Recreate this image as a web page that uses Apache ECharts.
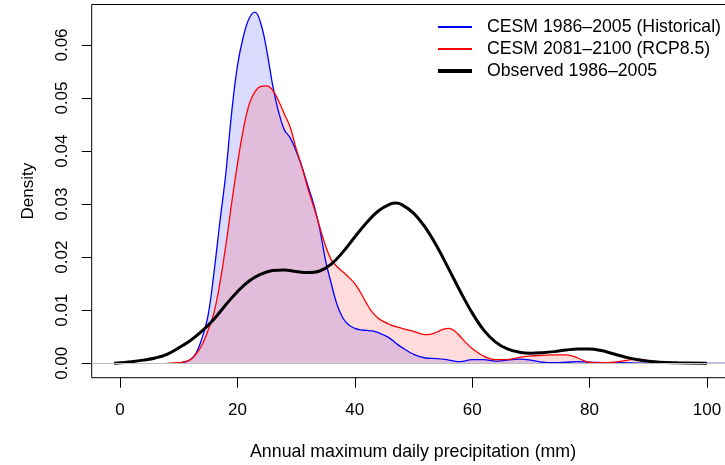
<!DOCTYPE html>
<html>
<head>
<meta charset="utf-8">
<script src="https://cdn.jsdelivr.net/npm/echarts@6/dist/echarts.min.js"></script>
<style>html,body{margin:0;padding:0;background:#fff;}#c{width:725px;height:465px;}</style>
</head>
<body>
<div id="c"></div>
<script>
// ---- data ----
const seriesNames = ["CESM 1986\u20132005 (Historical)", "CESM 2081\u20132100 (RCP8.5)", "Observed 1986\u20132005"];
const xTicks = [0, 20, 40, 60, 80, 100];
const yTicks = [0, 0.01, 0.02, 0.03, 0.04, 0.05, 0.06];
const xTitle = "Annual maximum daily precipitation (mm)";
const yTitle = "Density";

const histX = [10,11,12,13,14,15,16,17,18,19,20,21,22,23,24,25,26,27,28,29,30,31,32,33,34,35,36,37,38,39,40,41,42,43,44,45,46,47,48,50,52,54,56,58,60,62,64,66,68,70,72,74,76,78,80,85,90,95,100,105,110];
const histY = [0.0000,0.0002,0.0007,0.0020,0.0048,0.0090,0.0170,0.0265,0.0355,0.0470,0.0560,0.0615,0.0650,0.0662,0.0640,0.0590,0.0525,0.0475,0.0440,0.0425,0.0400,0.0370,0.0335,0.0300,0.0255,0.0195,0.0150,0.0110,0.0085,0.0072,0.0066,0.0063,0.0062,0.0061,0.0058,0.0053,0.0047,0.0038,0.0030,0.0017,0.0010,0.0009,0.0006,0.0003,0.0007,0.0007,0.0004,0.0006,0.0008,0.0006,0.0002,0.0001,0.0002,0.0003,0.0002,0.0001,0.0000,0.0001,0.0000,0.0000,0.0000];

const rcpX = [8,10,11,12,13,14,15,16,17,18,19,20,21,22,23,24,25,26,27,28,29,30,31,32,33,34,35,36,37,38,39,40,41,42,43,44,45,46,47,48,50,52,53,54,55,56,57,58,59,60,61,62,63,64,66,68,70,72,74,76,77,78,79,80,82,84,86,88,90,92,94];
const rcpY = [0.0000,0.0001,0.0003,0.0007,0.0018,0.0035,0.0062,0.0095,0.0150,0.0220,0.0300,0.0375,0.0440,0.0488,0.0512,0.0522,0.0523,0.0515,0.0495,0.0470,0.0445,0.0405,0.0370,0.0330,0.0295,0.0258,0.0222,0.0195,0.0182,0.0172,0.0162,0.0150,0.0133,0.0113,0.0096,0.0085,0.0078,0.0073,0.0069,0.0066,0.0060,0.0054,0.0055,0.0059,0.0064,0.0066,0.0061,0.0050,0.0038,0.0028,0.0020,0.0013,0.0009,0.0007,0.0007,0.0011,0.0014,0.0015,0.0016,0.0016,0.0014,0.0010,0.0005,0.0002,0.0001,0.0002,0.0005,0.0008,0.0005,0.0001,0.0000];

const obsX = [-1,0,2,4,6,8,10,12,14,16,18,20,22,24,26,28,30,32,34,36,38,40,42,44,46,47,48,50,52,54,56,58,60,62,64,66,68,70,72,74,76,78,80,82,84,86,88,90,92,95,100];
const obsY = [0.0000,0.0001,0.0003,0.0006,0.0010,0.0017,0.0029,0.0043,0.0061,0.0083,0.0110,0.0135,0.0155,0.0168,0.0175,0.0176,0.0173,0.0171,0.0174,0.0187,0.0210,0.0238,0.0265,0.0287,0.0300,0.0302,0.0299,0.0283,0.0256,0.0220,0.0178,0.0135,0.0095,0.0062,0.0040,0.0027,0.0021,0.0019,0.0020,0.0022,0.0025,0.0027,0.0027,0.0024,0.0018,0.0012,0.0007,0.0004,0.0002,0.0001,0.0000];

// ---- chart ----
const FONT = "Liberation Sans, Arial, Helvetica, sans-serif";
const X_MIN = -4.82, X_MAX = 109.8, Y_MIN = -0.002714, Y_MAX = 0.06763;
const pairs = (xs, ys) => xs.map((x, i) => [x, ys[i]]);
const chart = echarts.init(document.getElementById('c'));

// legend glyphs: thin bar (invisible corner points fix the 34x4 box) and thick bar
const thinBar = 'path://M0,0L0.01,0L0,0.01Z M0,1H34V3H0Z M34,4L33.99,4L34,3.99Z';
const thickBar = 'path://M0,0H34V4H0Z';

const option = {
  animation: false,
  title: {
    text: xTitle, left: 250, top: 443, padding: 0,
    textStyle: {fontFamily: FONT, fontSize: 17.8, fontWeight: 'normal', color: '#000'}
  },
  grid: {
    left: 91.7, top: 4.5, width: 672.8, height: 373.2,
    outerBoundsMode: 'none',
    show: true, borderColor: '#000', borderWidth: 1, backgroundColor: 'transparent'
  },
  legend: {
    orient: 'vertical', left: 433, top: 11.5,
    itemWidth: 34, itemHeight: 4, itemGap: 1,
    textStyle: {fontFamily: FONT, fontSize: 17.7, color: '#000', lineHeight: 21, padding: [0, 0, 0, 10]},
    data: [
      {name: seriesNames[0], icon: thinBar, itemStyle: {color: '#0000ff'}},
      {name: seriesNames[1], icon: thinBar, itemStyle: {color: '#ff0000'}},
      {name: seriesNames[2], icon: thickBar, itemStyle: {color: '#000000'}}
    ]
  },
  xAxis: {
    type: 'value', min: X_MIN, max: X_MAX,
    axisLine: {show: false, onZero: false},
    splitLine: {show: false},
    axisTick: {show: true, length: 10, customValues: xTicks, lineStyle: {color: '#000'}},
    axisLabel: {customValues: xTicks, margin: 24, fontFamily: FONT, fontSize: 17, color: '#000'}
  },
  yAxis: {
    type: 'value', min: Y_MIN, max: Y_MAX,
    name: yTitle, nameLocation: 'middle', nameGap: 55, nameRotate: 90,
    nameTextStyle: {fontFamily: FONT, fontSize: 17, color: '#000'},
    axisLine: {show: false, onZero: false},
    splitLine: {show: false},
    axisTick: {show: true, length: 10, customValues: yTicks, lineStyle: {color: '#000'}},
    axisLabel: {customValues: yTicks, rotate: 90, align: 'center', verticalAlign: 'bottom', margin: 21,
      fontFamily: FONT, fontSize: 17, color: '#000', formatter: v => Number(v).toFixed(2)}
  },
  series: [
    {
      name: '__zero', type: 'line', data: [], symbol: 'none', silent: true,
      markLine: {silent: true, symbol: 'none', label: {show: false},
        lineStyle: {color: '#bebebe', width: 1, type: 'solid'}, data: [{yAxis: 0}]}
    },
    {
      name: seriesNames[0], type: 'line', data: pairs(histX, histY),
      symbol: 'none', smooth: 0.4, color: '#0000ff',
      lineStyle: {color: '#0000ff', width: 1.3},
      areaStyle: {color: 'rgba(0,0,255,0.2)', origin: 0}
    },
    {
      name: seriesNames[1], type: 'line', data: pairs(rcpX, rcpY),
      symbol: 'none', smooth: 0.4, color: '#ff0000',
      lineStyle: {color: '#ff0000', width: 1.3},
      areaStyle: {color: 'rgba(255,0,0,0.2)', origin: 0}
    },
    {
      name: seriesNames[2], type: 'line', data: pairs(obsX, obsY),
      symbol: 'none', smooth: 0.4, color: '#000000',
      lineStyle: {color: '#000000', width: 3}
    }
  ]
};
chart.setOption(option);

// if the grid was squeezed into the canvas, keep the reference scale (100 mm near x = 707)
const p100 = chart.convertToPixel({xAxisIndex: 0}, 100);
if (Math.abs(p100 - 707.5) > 3) {
  const left = chart.convertToPixel({xAxisIndex: 0}, X_MIN);
  const right = chart.convertToPixel({xAxisIndex: 0}, X_MAX);
  const pxPerMm = 587 / 100;
  chart.setOption({xAxis: {max: X_MIN + (right - left) / pxPerMm}});
}
</script>
</body>
</html>
